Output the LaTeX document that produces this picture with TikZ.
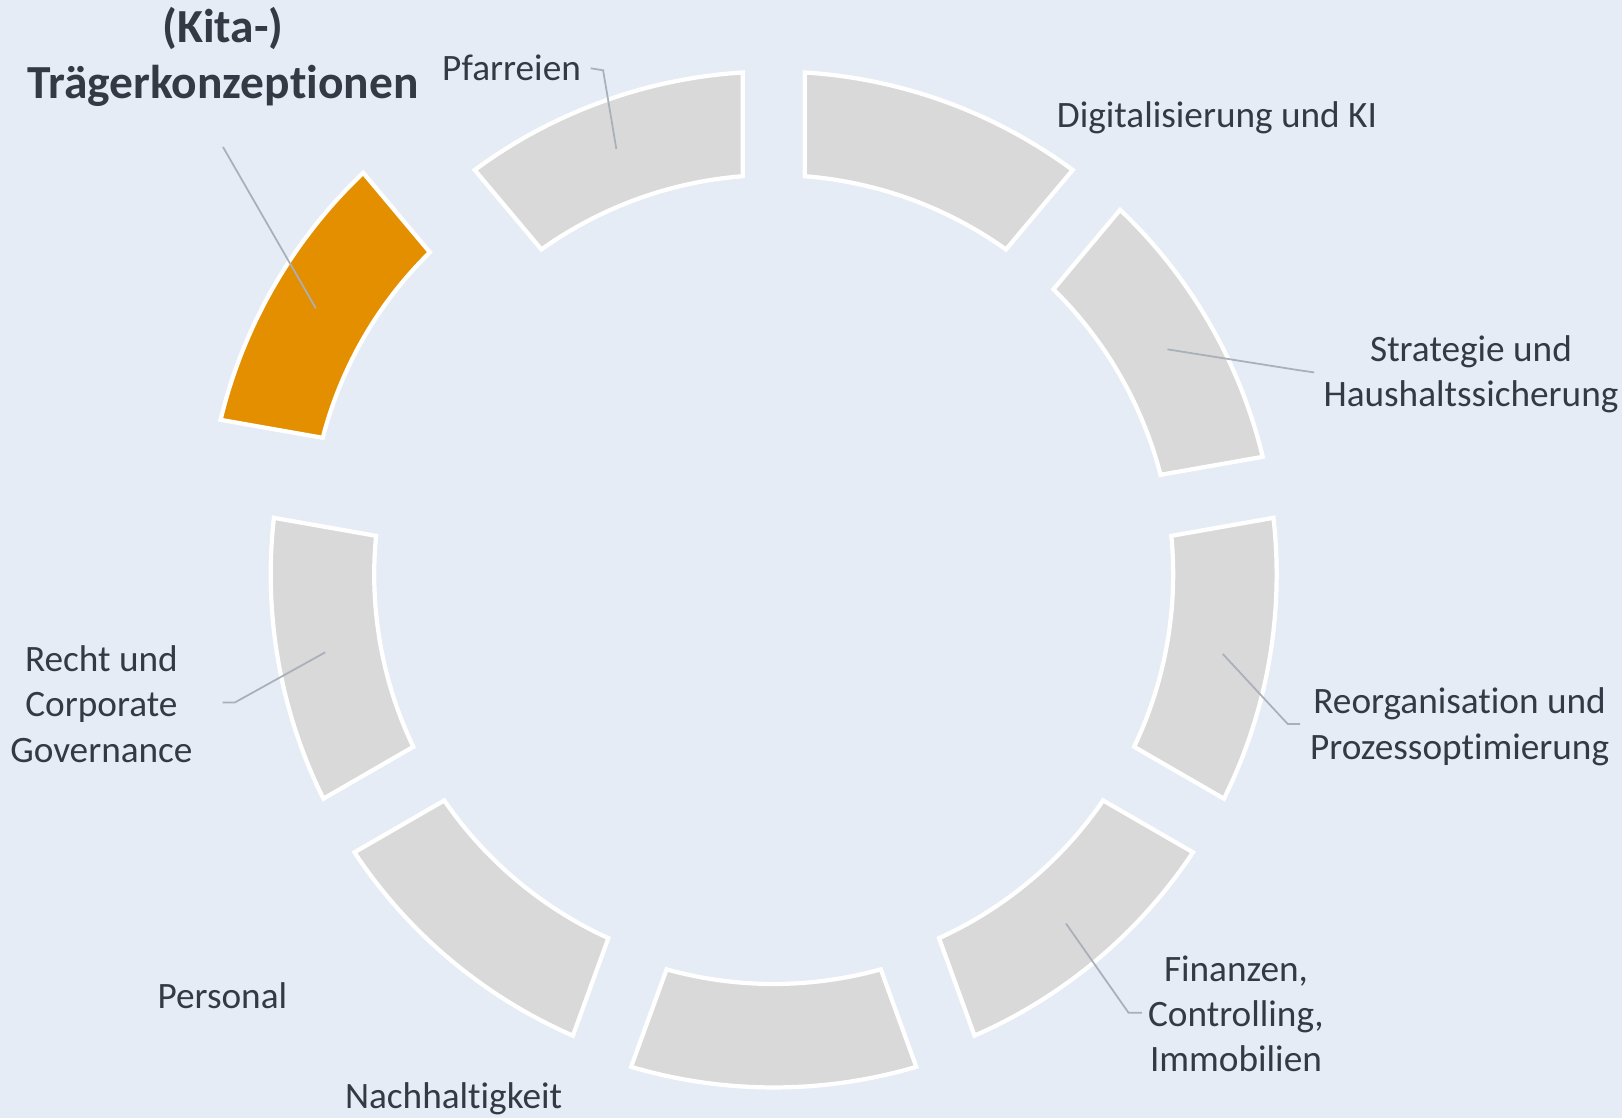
\documentclass[tikz,border=0pt]{standalone}
\usepackage{fontspec}
\setmainfont{Carlito}[Ligatures={NoCommon,NoContextual,NoRare,NoRequired}]
\usetikzlibrary{calc}
\definecolor{bgblue}{HTML}{E6ECF5}
\definecolor{seggray}{HTML}{D9D9D9}
\definecolor{kitaorange}{HTML}{E38F00}
\definecolor{txtdark}{HTML}{333A45}
\definecolor{leadgray}{HTML}{A9B0BA}

\tikzset{
  seg/.style={fill=seggray, draw=white, line width=1.2pt, line join=miter},
  leader/.style={draw=leadgray, line width=0.5pt},
  lbl/.style={text=txtdark, align=center, font=\fontsize{10.6}{12.9}\selectfont},
  ttl/.style={text=txtdark, align=center, font=\fontsize{13.5}{15.9}\selectfont\bfseries}
}

\begin{document}
\begin{tikzpicture}
    % Background
    \fill[bgblue] (-7.737,-5.367) rectangle (8.483,5.813);
    \useasboundingbox (-7.737,-5.367) rectangle (8.483,5.813);

    % Ring segments (outer/inner radius, half gap as angle)
    \def\Ro{5.03}
    \def\Ri{3.995}
    \def\dO{3.53}
    \def\dI{4.45}
    \begin{scope}[shift={(0,0.068)}]
    \foreach \hi/\lo in {90/50, 50/10, 10/-30, -30/-70, -110/-150, -150/-190, -230/-270}{
        \draw[seg] (\hi-\dO:\Ro) arc[start angle=\hi-\dO, end angle=\lo+\dO, radius=\Ro]
            -- (\lo+\dI:\Ri) arc[start angle=\lo+\dI, end angle=\hi-\dI, radius=\Ri] -- cycle;
    }
    % bottom segment, slightly lowered
    \begin{scope}[shift={(0,-0.1)}]
        \draw[seg] (-70-\dO:\Ro) arc[start angle=-70-\dO, end angle=-110+\dO, radius=\Ro]
            -- (-110+\dI:\Ri) arc[start angle=-110+\dI, end angle=-70-\dI, radius=\Ri] -- cycle;
    \end{scope}
    % highlighted segment, pulled out
    \begin{scope}[shift={(150:0.74)}]
        \draw[seg, fill=kitaorange] (170-\dO:\Ro) arc[start angle=170-\dO, end angle=130+\dO, radius=\Ro]
            -- (130+\dI:\Ri) arc[start angle=130+\dI, end angle=170-\dI, radius=\Ri] -- cycle;
    \end{scope}
    \end{scope}

    % Labels
    \node[ttl] (kita) at (-5.507,5.243) {(Kita-)\\Trägerkonzept\kern0pt ionen};
    \node[lbl] (pfarr) at (-2.622,5.13) {Pfarreien};
    \node[lbl] (digi) at (4.433,4.633) {Digitalisierung und KI};
    \node[lbl] (strat) at (6.973,2.068) {Strategie und\\Haushaltssicherung};
    \node[lbl] (reorg) at (6.859,-1.454) {Reorganisat\kern0pt ion und\\Prozessopt\kern0pt imierung};
    \node[lbl] (finanz) at (4.623,-4.324) {Finanzen,\\Controlling,\\Immobilien};
    \node[lbl] (nachh) at (-3.201,-5.172) {Nachhalt\kern0pt igkeit};
    \node[lbl] (pers) at (-5.513,-4.148) {Personal};
    \node[lbl] (recht) at (-6.723,-1.228) {Recht und\\Corporate\\Governance};

    % Leader lines
    \coordinate (kita-pt) at (149.2:5.33);
    \coordinate (pfarr-pt) at (110:4.6);
    \coordinate (strat-pt) at (30.5:4.57);
    \coordinate (reorg-pt) at (-9.2:4.55);
    \coordinate (finanz-pt) at (-49.5:4.5);
    \coordinate (recht-pt) at (189:4.54);
    \draw[leader] ([yshift=-0.28cm]kita.south) -- (kita-pt);
    \draw[leader] ([xshift=-0.025cm]pfarr.east) -- ++(0.124,-0.02) -- (pfarr-pt);
    \draw[leader] ([xshift=0.03cm,yshift=0.021cm]strat.west) -- ++(-0.148,0.021) -- (strat-pt);
    \draw[leader] ([xshift=0.025cm,yshift=0.026cm]reorg.west) -- ++(-0.124,0) -- (reorg-pt);
    \draw[leader] ([xshift=0.062cm,yshift=0.01cm]finanz.west) -- ++(-0.134,0) -- (finanz-pt);
    \draw[leader] ([xshift=0.177cm,yshift=0.017cm]recht.east) -- ++(0.124,0) -- (recht-pt);
\end{tikzpicture}
\end{document}
